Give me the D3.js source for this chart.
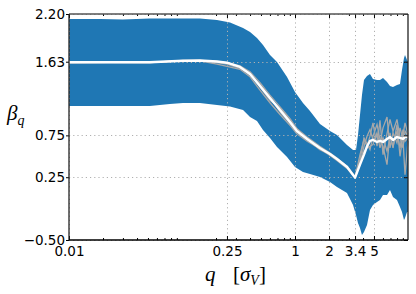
<!DOCTYPE html>
<html><head><meta charset="utf-8">
<script src="https://cdn.jsdelivr.net/npm/d3@7"></script>
<style>
html,body{margin:0;padding:0;background:#fff;}
svg{display:block;}
.tick text{font-family:"DejaVu Sans",sans-serif;font-size:13.5px;fill:#000;}
</style></head>
<body>
<svg id="chart" width="416" height="294"></svg>
<script>
// ---- data ----
const xTicks = [0.01, 0.25, 1, 2, 3.4, 5];
const xTickLabels = ["0.01", "0.25", "1", "2", "3.4", "5"];
const yTicks = [-0.5, 0.25, 0.75, 1.63, 2.2];
const yTickLabels = ["\u22120.50", "0.25", "0.75", "1.63", "2.20"];
const xMinor = [0.02,0.03,0.04,0.05,0.06,0.07,0.08,0.09,0.2,0.3,0.4,0.5,0.6,0.7,0.8,0.9,3,4,6,7,8,9];

const qBand = [0.01,0.0188,0.030,0.052,0.078,0.102,0.144,0.204,0.266,0.347,0.40,0.461,0.521,0.601,0.693,0.850,1.0,1.177,1.357,1.664,2.04,2.353,2.885,3.262,3.466,3.61,3.76,3.916,4.079,4.337,4.61,4.90,5.317,5.652,6.009,6.52,6.929,7.366,7.991,8.495,8.849,9.218,9.408,9.80,10];
const bandUpper = [2.140,2.140,2.134,2.146,2.146,2.146,2.146,2.128,2.098,2.033,1.985,1.913,1.830,1.710,1.627,1.447,1.268,1.137,1.042,0.886,0.802,0.755,0.636,0.575,0.575,0.755,0.993,1.232,1.412,1.459,1.483,1.423,1.412,1.412,1.435,1.388,1.340,1.328,1.352,1.364,1.531,1.674,1.710,1.650,1.627];
const bandLower = [1.101,1.101,1.101,1.101,1.125,1.137,1.137,1.113,1.095,1.053,0.969,0.922,0.814,0.719,0.611,0.492,0.372,0.312,0.288,0.253,0.193,0.133,0.062,-0.082,-0.201,-0.297,-0.357,-0.440,-0.405,-0.321,-0.142,-0.082,-0.046,-0.022,0.038,0.038,0.097,0.014,-0.022,-0.106,-0.166,-0.261,-0.237,-0.166,-0.166];

const qLine = [0.01,0.052,0.102,0.144,0.204,0.25,0.326,0.40,0.49,0.60,0.737,0.903,1.04,1.28,1.66,2.04,2.35,2.89,3.4,3.76,4.08,4.34,4.61,4.9,5.32,5.65,6.01,6.52,6.93,7.37,7.99,8.5,9.03,9.41,10];
const meanLine = [1.623,1.623,1.642,1.644,1.632,1.618,1.567,1.483,1.340,1.196,1.053,0.910,0.802,0.707,0.599,0.527,0.468,0.372,0.245,0.400,0.520,0.620,0.683,0.695,0.671,0.683,0.671,0.707,0.730,0.695,0.730,0.719,0.707,0.730,0.730];
const run1 = [1.62,1.625,1.64,1.645,1.62,1.60,1.55,1.50,1.33,1.17,1.08,0.93,0.83,0.73,0.62,0.54,0.48,0.38,0.25,0.52,0.70,0.62,0.74,0.90,0.62,0.93,0.52,0.77,0.94,0.80,0.94,0.72,0.60,0.80,0.74];
const run2 = [1.625,1.62,1.64,1.64,1.60,1.575,1.54,1.45,1.29,1.14,1.00,0.87,0.77,0.68,0.59,0.51,0.45,0.355,0.24,0.40,0.62,0.74,0.82,0.70,0.74,0.66,0.84,0.97,0.60,0.78,0.66,0.84,0.70,0.28,0.68];
const run3 = [1.62,1.62,1.645,1.645,1.635,1.62,1.58,1.51,1.38,1.23,1.09,0.95,0.83,0.72,0.60,0.53,0.47,0.38,0.26,0.44,0.56,0.60,0.62,0.64,0.78,0.60,0.72,0.56,0.72,0.62,0.80,0.60,0.82,0.68,0.72];
const run4 = [1.62,1.625,1.64,1.64,1.63,1.61,1.56,1.47,1.36,1.21,1.03,0.89,0.79,0.70,0.58,0.52,0.46,0.37,0.25,0.46,0.72,0.65,0.58,0.74,0.88,0.70,0.62,0.40,0.78,0.60,0.88,0.50,0.76,0.90,0.76];
const runs = [run1, run2, run3, run4];

// ---- layout ----
const L = 69, R = 408, T = 14, B = 240;
const svg = d3.select("#chart");
const x = d3.scaleLog().domain([0.01, 10]).range([L, R]);
const y = d3.scaleLinear().domain([-0.5, 2.2]).range([B, T]);

// band
const bandData = qBand.map((q, i) => ({q, lo: bandLower[i], hi: bandUpper[i]}));
svg.append("path").datum(bandData)
  .attr("fill", "#1f77b4")
  .attr("d", d3.area().x(d => x(d.q)).y0(d => y(d.lo)).y1(d => y(d.hi)));

// grid
const grid = svg.append("g").attr("stroke", "#b0b0b0").attr("stroke-width", 1).attr("stroke-dasharray", "1.2,3");
grid.selectAll("line.gx").data(xTicks).join("line").attr("class","gx")
  .attr("x1", d => Math.round(x(d)) + 0.5).attr("x2", d => Math.round(x(d)) + 0.5).attr("y1", T).attr("y2", B);
grid.selectAll("line.gy").data(yTicks).join("line").attr("class","gy")
  .attr("y1", d => Math.round(y(d)) + 0.5).attr("y2", d => Math.round(y(d)) + 0.5).attr("x1", L).attr("x2", R);

// lines
const line = d3.line().x((d, i) => x(qLine[i])).y(d => y(d));
svg.append("g").selectAll("path").data(runs).join("path")
  .attr("fill", "none").attr("stroke", "#a8a8a8").attr("stroke-width", 1.3)
  .attr("d", d => line(d));
svg.append("path").datum(meanLine)
  .attr("fill", "none").attr("stroke", "#fff").attr("stroke-width", 2.4)
  .attr("stroke-linejoin", "round")
  .attr("d", line);

// axes
const fmtX = d => xTickLabels[xTicks.indexOf(d)];
const fmtY = d => yTickLabels[yTicks.indexOf(d)];

const gB = svg.append("g").attr("transform", `translate(0,${B})`)
  .call(d3.axisBottom(x).tickValues(xTicks).tickFormat(fmtX).tickSize(-4).tickPadding(6));
const gBm = svg.append("g").attr("transform", `translate(0,${B})`)
  .call(d3.axisBottom(x).tickValues(xMinor).tickFormat("").tickSize(-2));
const gT = svg.append("g").attr("transform", `translate(0,${T})`)
  .call(d3.axisTop(x).tickValues(xTicks).tickFormat("").tickSize(-4));
const gTm = svg.append("g").attr("transform", `translate(0,${T})`)
  .call(d3.axisTop(x).tickValues(xMinor).tickFormat("").tickSize(-2));
const gL = svg.append("g").attr("transform", `translate(${L},0)`)
  .call(d3.axisLeft(y).tickValues(yTicks).tickFormat(fmtY).tickSize(3).tickPadding(1));
const gR = svg.append("g").attr("transform", `translate(${R},0)`)
  .call(d3.axisRight(y).tickValues(yTicks).tickFormat("").tickSize(-4));
[gB, gBm, gT, gTm, gL, gR].forEach(g => { g.select(".domain").remove(); g.selectAll(".tick line").attr("stroke", "#000"); });

// spines
svg.append("line").attr("x1", L).attr("x2", R).attr("y1", T).attr("y2", T).attr("stroke", "#555").attr("stroke-width", 1.5);
svg.append("line").attr("x1", R).attr("x2", R).attr("y1", T).attr("y2", B).attr("stroke", "#222").attr("stroke-width", 1.3);
svg.append("line").attr("x1", L).attr("x2", L).attr("y1", T).attr("y2", B).attr("stroke", "#222").attr("stroke-width", 1.3);
svg.append("line").attr("x1", L).attr("x2", R).attr("y1", B).attr("y2", B).attr("stroke", "#000").attr("stroke-width", 1.3);

// labels
const serif = "'Liberation Serif','DejaVu Serif',serif";
const yl = svg.append("text").attr("x", 7).attr("y", 120).attr("font-family", serif).attr("font-size", 21).attr("font-style", "italic");
yl.append("tspan").text("\u03B2");
yl.append("tspan").attr("dy", 5).attr("font-size", 14).text("q");

const xl = svg.append("text").attr("y", 281).attr("font-family", serif).attr("font-size", 21);
xl.append("tspan").attr("x", 205).attr("font-style", "italic").text("q");
xl.append("tspan").attr("x", 233).text("[");
xl.append("tspan").attr("font-style", "italic").text("\u03C3");
xl.append("tspan").attr("dy", 4).attr("font-size", 14).attr("font-style", "italic").text("V");
xl.append("tspan").attr("dy", -4).text("]");
</script>
</body></html>
